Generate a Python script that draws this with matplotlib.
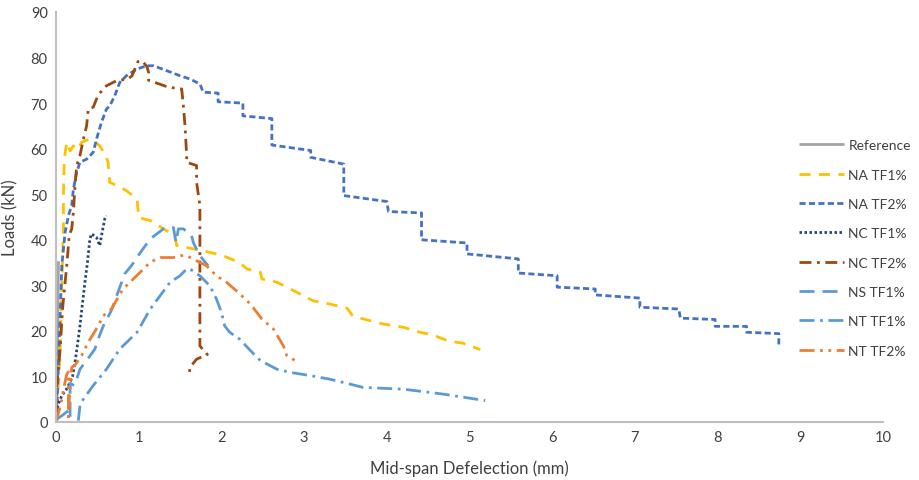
import matplotlib
matplotlib.use("Agg")
import matplotlib.pyplot as plt

plt.rcParams['font.family'] = ['Lato', 'DejaVu Sans']

# ---- data ----
ref_x = [0.01, 0.02, 0.03]
ref_y = [0.0, 20.0, 35.3]

na1_x = [0.0, 0.02, 0.05, 0.07, 0.09, 0.09, 0.10, 0.13, 0.17, 0.21, 0.26, 0.31, 0.36, 0.41, 0.47, 0.53,
         0.60, 0.63, 0.65, 0.75, 0.85, 0.98, 1.00, 1.14, 1.30, 1.44, 1.46, 1.58, 1.78, 2.02, 2.22, 2.31,
         2.47, 2.49, 2.67, 2.91, 3.11, 3.31, 3.52, 3.59, 3.96, 4.20, 4.40, 4.56, 4.74, 4.92, 5.13]
na1_y = [3.0, 6.0, 15.0, 30.0, 42.0, 50.0, 57.7, 61.4, 59.5, 60.6, 59.8, 61.4, 61.8, 62.1, 61.5, 60.6,
         58.5, 57.0, 52.6, 51.8, 50.8, 48.9, 44.9, 44.2, 42.4, 40.8, 38.7, 38.3, 37.6, 36.5, 35.0, 33.6,
         32.9, 31.4, 30.7, 28.5, 26.6, 25.9, 25.0, 23.2, 21.5, 20.8, 19.7, 19.1, 17.8, 17.3, 15.9]

na2_x = [0.0, 0.01, 0.03, 0.05, 0.07, 0.11, 0.15, 0.19, 0.21, 0.25, 0.29, 0.37, 0.45, 0.49, 0.55, 0.61,
         0.65, 0.71, 0.77, 0.85, 0.98, 1.10, 1.18, 1.34, 1.50, 1.62, 1.74, 1.78, 1.96, 1.96, 2.26, 2.26,
         2.61, 2.61, 3.08, 3.08, 3.48, 3.48, 4.00, 4.02, 4.42, 4.42, 4.97, 4.97, 5.59, 5.59, 6.06, 6.06,
         6.52, 6.52, 7.06, 7.06, 7.53, 7.55, 7.97, 7.97, 8.35, 8.35, 8.74, 8.74]
na2_y = [0.0, 2.9, 12.4, 23.3, 34.3, 41.6, 45.3, 47.5, 51.1, 54.8, 57.0, 57.7, 59.2, 62.1, 65.8, 68.7,
         69.4, 71.6, 74.5, 76.0, 77.5, 78.2, 78.2, 77.1, 76.0, 75.3, 74.2, 72.4, 72.2, 70.3, 70.0, 67.2,
         66.6, 60.8, 59.6, 58.1, 56.6, 49.7, 48.4, 46.2, 45.9, 40.0, 39.3, 36.9, 35.8, 32.7, 32.1, 29.6,
         29.2, 27.9, 27.2, 25.2, 24.8, 22.8, 22.5, 21.0, 21.0, 19.7, 19.4, 16.7]

nc1_x = [0.0, 0.03, 0.07, 0.12, 0.17, 0.20, 0.23, 0.26, 0.29, 0.32, 0.35, 0.38, 0.41, 0.43, 0.49, 0.53,
         0.55, 0.59, 0.61]
nc1_y = [2.0, 4.0, 5.8, 7.0, 8.7, 10.0, 13.1, 17.0, 21.1, 26.0, 30.7, 35.0, 40.2, 41.3, 40.5, 38.7,
         40.9, 44.6, 45.3]

nc2_x = [0.0, 0.01, 0.05, 0.08, 0.13, 0.16, 0.19, 0.21, 0.23, 0.25, 0.29, 0.33, 0.37, 0.39, 0.45, 0.51,
         0.61, 0.73, 0.87, 0.92, 0.99, 1.04, 1.10, 1.12, 1.12, 1.36, 1.52, 1.54, 1.56, 1.58, 1.58, 1.70,
         1.70, 1.74, 1.74, 1.74, 1.83, 1.70, 1.62, 1.61]
nc2_y = [2.0, 8.0, 16.0, 25.0, 34.3, 41.0, 42.4, 46.0, 52.0, 56.3, 58.5, 62.0, 65.0, 68.7, 69.1, 71.8,
         73.8, 74.9, 75.3, 76.0, 79.1, 79.3, 78.0, 76.7, 75.0, 73.5, 73.1, 69.4, 65.0, 58.5, 57.0, 56.3,
         52.6, 47.5, 35.0, 16.7, 14.8, 13.8, 12.0, 10.2]

ns1_x = [0.0, 0.08, 0.15, 0.17, 0.17, 0.22, 0.25, 0.29, 0.39, 0.47, 0.51, 0.57, 0.67, 0.77, 0.83, 0.92,
         1.02, 1.14, 1.30, 1.42, 1.45, 1.48, 1.54, 1.64, 1.66, 1.74, 1.84]
ns1_y = [0.5, 1.5, 2.5, 1.0, 8.5, 8.0, 9.4, 11.6, 14.0, 16.0, 18.2, 21.0, 24.5, 29.5, 32.5, 34.5,
         37.2, 40.2, 42.4, 42.7, 39.4, 42.4, 42.4, 40.9, 39.4, 36.5, 34.3]

nt1_x = [0.27, 0.29, 0.33, 0.45, 0.61, 0.77, 0.98, 1.14, 1.38, 1.50, 1.58, 1.62, 1.74, 1.86, 1.94, 2.00,
         2.04, 2.10, 2.22, 2.35, 2.47, 2.67, 2.83, 3.07, 3.31, 3.56, 3.71, 4.20, 4.52, 4.69, 4.94, 5.19]
nt1_y = [0.3, 3.6, 5.0, 8.0, 11.6, 16.0, 19.7, 24.8, 30.7, 32.1, 33.6, 33.6, 32.1, 29.9, 27.0, 24.1,
         21.1, 19.7, 18.2, 15.7, 13.5, 11.6, 10.9, 10.2, 9.4, 8.3, 7.6, 7.2, 6.5, 6.1, 5.4, 4.7]

nt2_x = [0.0, 0.03, 0.06, 0.10, 0.13, 0.15, 0.15, 0.16, 0.19, 0.23, 0.31, 0.39, 0.51, 0.57, 0.67, 0.81,
         0.85, 1.02, 1.14, 1.26, 1.42, 1.54, 1.58, 1.70, 1.82, 1.94, 2.06, 2.20, 2.35, 2.49, 2.63, 2.75,
         2.79, 2.89]
nt2_y = [0.0, 2.0, 4.0, 8.0, 10.5, 11.0, 0.3, 5.0, 12.0, 12.5, 14.6, 17.5, 21.1, 23.3, 24.8, 29.2,
         29.9, 32.9, 35.1, 36.1, 36.1, 36.6, 36.5, 35.4, 34.3, 32.1, 30.7, 28.5, 25.9, 22.6, 20.4, 16.7,
         14.6, 13.5]

x_ticks = list(range(0, 11))
y_ticks = list(range(0, 91, 10))

# ---- figure ----
fig = plt.figure(figsize=(9.19, 4.81), dpi=100)
ax = fig.add_axes([56 / 919, 58 / 481, 827 / 919, 410 / 481])

lw = 2.0
series = [
    ("Reference", ref_x, ref_y, "#A5A5A5", "-"),
    ("NA TF1%", na1_x, na1_y, "#FFC000", (0, (4, 3))),
    ("NA TF2%", na2_x, na2_y, "#4472C4", (0, (2.2, 1.2))),
    ("NC TF1%", nc1_x, nc1_y, "#264478", (0, (0.9, 0.9))),
    ("NC TF2%", nc2_x, nc2_y, "#9E480E", (0, (4.3, 2, 1, 2))),
    ("NS TF1%", ns1_x, ns1_y, "#5B9BD5", (0, (5.4, 2.9))),
    ("NT TF1%", nt1_x, nt1_y, "#5B9BD5", (0, (5.4, 2, 1, 2))),
    ("NT TF2%", nt2_x, nt2_y, "#ED7D31", (0, (5.4, 2, 1, 2, 1, 2))),
]
for name, xs, ys, col, ls in series:
    ax.plot(xs, ys, color=col, linestyle=ls, linewidth=lw, label=name,
            solid_capstyle='butt', dash_capstyle='butt')

ax.set_xlim(0, 10)
ax.set_ylim(0, 90)
ax.set_xticks(x_ticks)
ax.set_yticks(y_ticks)
ax.tick_params(length=0, labelsize=10.5, colors='#404040', pad=6)
for s in ['top', 'right']:
    ax.spines[s].set_visible(False)
for s in ['left', 'bottom']:
    ax.spines[s].set_color('#BFBFBF')
    ax.spines[s].set_linewidth(1.5)

ax.set_xlabel("Mid-span Defelection (mm)", fontsize=12, color='#404040', labelpad=11)
ax.set_ylabel("Loads (kN)", fontsize=12, color='#404040', labelpad=9)

leg = fig.legend(loc='upper left', bbox_to_anchor=(795 / 919, 1 - 136 / 481), frameon=False,
                 fontsize=10, handlelength=3.2, handletextpad=0.35, labelspacing=1.25,
                 borderaxespad=0, borderpad=0.3)
for t in leg.get_texts():
    t.set_color('#404040')

fig.savefig("out.png", dpi=100)
